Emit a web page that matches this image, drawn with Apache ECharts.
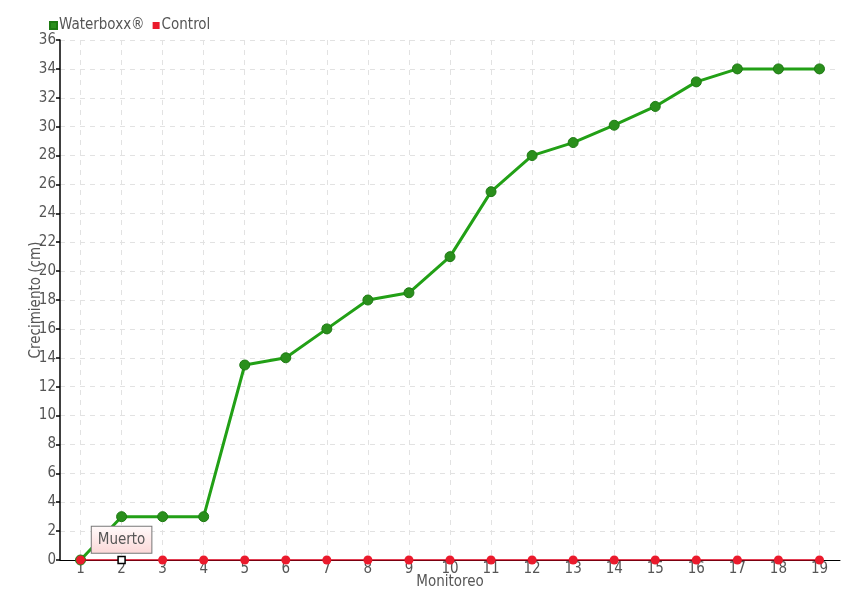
<!DOCTYPE html>
<html>
<head>
<meta charset="utf-8">
<script src="https://cdn.jsdelivr.net/npm/echarts@6/dist/echarts.min.js"></script>
<style>
  html, body { margin: 0; padding: 0; background: #fff; }
  #chart { width: 860px; height: 600px; }
</style>
</head>
<body>
<div id="chart"></div>
<script>
// monitoreos 1..19
const categories = ['1','2','3','4','5','6','7','8','9','10','11','12','13','14','15','16','17','18','19'];
const waterboxx = [0, 3, 3, 3, 13.5, 14, 16, 18, 18.5, 21, 25.5, 28, 28.9, 30.1, 31.4, 33.1, 34, 34, 34];
const control = [0, 0, 0, 0, 0, 0, 0, 0, 0, 0, 0, 0, 0, 0, 0, 0, 0, 0, 0];
const deadIndex = 1; // "Muerto" en el monitoreo 2

const font = '"Liberation Sans Narrow", "DejaVu Sans Condensed", sans-serif';
const textColor = '#555';

const controlData = control.map((v, i) => {
  if (i !== deadIndex) return v;
  return {
    value: v,
    symbol: 'rect',
    symbolSize: 7,
    itemStyle: { color: '#fff', borderColor: '#000', borderWidth: 1.5 },
    label: {
      show: true,
      position: 'top',
      distance: 3,
      formatter: 'Muerto',
      color: '#555',
      fontFamily: font,
      fontSize: 15,
      padding: [6, 6, 5, 6],
      borderColor: '#777',
      borderWidth: 1,
      backgroundColor: {
        type: 'linear', x: 0, y: 0, x2: 0, y2: 1,
        colorStops: [{ offset: 0, color: '#fffafa' }, { offset: 1, color: '#fcd8d8' }]
      }
    }
  };
});

const chart = echarts.init(document.getElementById('chart'));
chart.setOption({
  animation: false,
  textStyle: { fontFamily: font },
  legend: {
    left: 44,
    top: 13,
    itemWidth: 7,
    itemHeight: 7,
    itemGap: 8,
    icon: 'rect',
    textStyle: { color: textColor, fontSize: 15, fontFamily: font, padding: [0, 0, 0, -3] },
    data: ['Waterboxx®', 'Control']
  },
  grid: { left: 60, right: 20, top: 40, bottom: 40, outerBoundsMode: 'none' },
  xAxis: {
    type: 'category',
    data: categories,
    boundaryGap: true,
    name: 'Monitoreo',
    nameLocation: 'middle',
    nameGap: 15,
    nameMoveOverlap: false,
    nameTextStyle: { color: textColor, fontSize: 15, fontFamily: font },
    axisLine: { lineStyle: { color: '#000', width: 1 } },
    axisTick: { show: false },
    axisLabel: { color: textColor, fontSize: 15, margin: 2, fontFamily: font },
    splitLine: { show: true, alignWithLabel: true, lineStyle: { color: '#e2e2e2', type: [5, 5] } }
  },
  yAxis: {
    type: 'value',
    min: 0,
    max: 36,
    interval: 2,
    name: 'Crecimiento (cm)',
    nameLocation: 'middle',
    nameGap: 16,
    nameMoveOverlap: false,
    nameTextStyle: { color: textColor, fontSize: 15, fontFamily: font },
    axisLine: { show: true, lineStyle: { color: '#000', width: 1.5 } },
    axisTick: { show: true, length: 4, lineStyle: { color: '#000', width: 1.5 } },
    axisLabel: { color: textColor, fontSize: 15, margin: 4, fontFamily: font },
    splitLine: { show: true, lineStyle: { color: '#e2e2e2', type: [5, 5] } }
  },
  series: [
    {
      name: 'Waterboxx®',
      type: 'line',
      data: waterboxx,
      color: '#1f9a14',
      symbol: 'circle',
      symbolSize: 10,
      lineStyle: { width: 3, color: '#22a016' },
      itemStyle: { color: '#2a8f1c', borderColor: '#1d7a12', borderWidth: 1 },
      z: 2
    },
    {
      name: 'Control',
      type: 'line',
      data: controlData,
      color: '#e8112d',
      symbol: 'circle',
      symbolSize: 9,
      lineStyle: { width: 1.5, color: '#d9001b' },
      itemStyle: { color: '#ea1a2c' },
      z: 3
    }
  ]
});
</script>
</body>
</html>
